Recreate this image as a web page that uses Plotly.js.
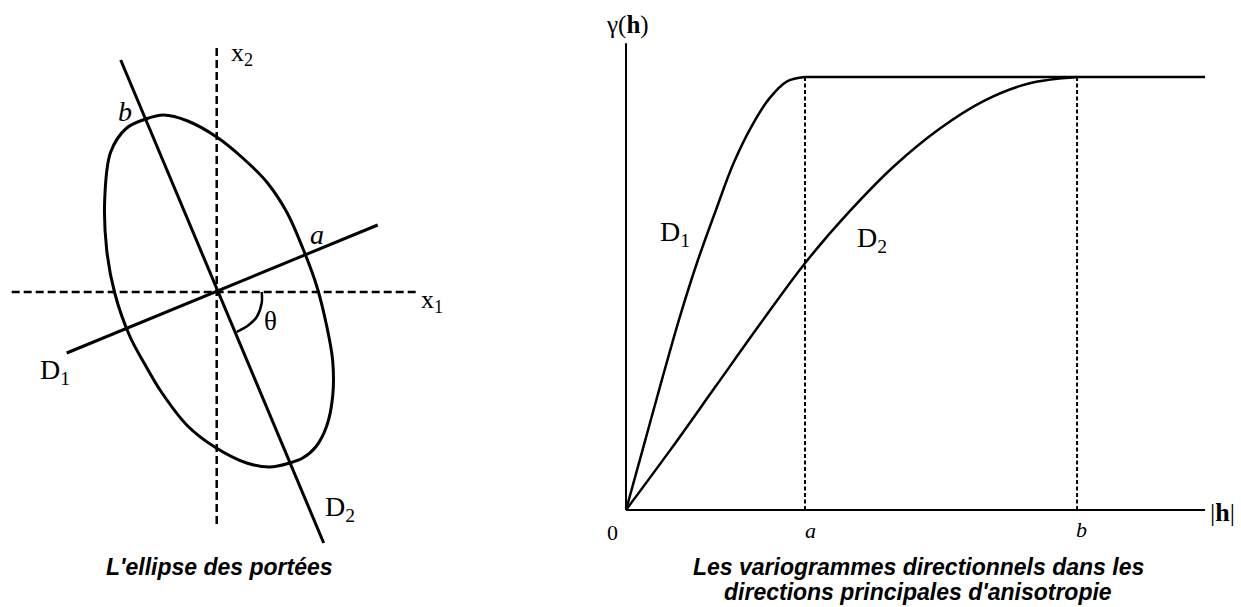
<!DOCTYPE html>
<html>
<head>
<meta charset="utf-8">
<script src="https://cdn.plot.ly/plotly-3.0.1.min.js"></script>
<style>html,body{margin:0;padding:0;background:#fff;}#chart{width:1241px;height:607px;}</style>
</head>
<body>
<div id="chart"></div>
<script>
// ---------- Left diagram: range ellipse (units: centred on the axis crossing, y up) ----------
const x1AxisX = [-205, 202];
const x1AxisY = [0, 0];
const x2AxisX = [0, 0];
const x2AxisY = [244, -236];
const lineD1X = [-150, 161];
const lineD1Y = [-61, 67];
const lineD2X = [-96, 107];
const lineD2Y = [232, -251];
const ellipseX = [-71, -53, -29, 0, 26, 50, 70, 86, 100, 110, 116, 116, 110, 99, 86, 73, 53, 30, -2, -29, -56, -72, -87, -102, -110, -112, -106, -90, -71];
const ellipseY = [173, 177, 171, 155, 134, 110, 80, 44, 6, -34, -69, -104, -134, -155, -166, -171, -175, -171, -155, -134, -99, -72, -44, -1, 42, 92, 140, 164, 173];
const thetaArcX = [45, 45, 40, 32, 20];
const thetaArcY = [0, -11, -25, -33, -40];

// ---------- Right diagram: directional variograms (a = 1, sill = 1) ----------
const rangeA = 1;
const rangeB = 2.52;
const sill = 1;
const hMax = 3.235;
const gammaAxisTop = 1.078;
const d1H = [0, 0.1, 0.2, 0.3, 0.4, 0.5, 0.6, 0.7, 0.8, 0.9, 1.0];
const d1Gamma = [0, 0.15, 0.30, 0.445, 0.575, 0.69, 0.80, 0.885, 0.95, 0.99, 1.0];
const d2H = [0, 0.25, 0.5, 0.75, 1.0, 1.25, 1.5, 1.75, 2.0, 2.25, 2.52];
const d2Gamma = [0, 0.14, 0.285, 0.43, 0.57, 0.69, 0.795, 0.88, 0.945, 0.985, 1.0];

const captionLeft = "L'ellipse des portées";
const captionRightLines = ["Les variogrammes directionnels dans les", "directions principales d'anisotropie"];

const K = '#000';
const serif = 'Liberation Serif, Times New Roman, serif';
const sans = 'Liberation Sans, Arial, sans-serif';

function ln(x, y, w, dash, xa, ya, shape) {
  return {x: x, y: y, mode: 'lines', type: 'scatter', xaxis: xa, yaxis: ya, hoverinfo: 'skip',
    line: {color: K, width: w, dash: dash || 'solid', shape: shape || 'linear', smoothing: 1}};
}

const traces = [
  ln(x1AxisX, x1AxisY, 2.5, '8px,4px', 'x', 'y'),
  ln(x2AxisX, x2AxisY, 2.5, '8px,4px', 'x', 'y'),
  ln(lineD2X, lineD2Y, 3, null, 'x', 'y'),
  ln(lineD1X, lineD1Y, 3, null, 'x', 'y'),
  ln(ellipseX, ellipseY, 3, null, 'x', 'y', 'spline'),
  ln(thetaArcX, thetaArcY, 2.5, null, 'x', 'y', 'spline'),

  ln([0, 0], [0, gammaAxisTop], 2, null, 'x2', 'y2'),
  ln([0, hMax], [0, 0], 2, null, 'x2', 'y2'),
  ln([rangeA, rangeA], [0, sill], 2, '4px,2.5px', 'x2', 'y2'),
  ln([rangeB, rangeB], [0, sill], 2, '4px,2.5px', 'x2', 'y2'),
  ln([rangeA, hMax], [sill, sill], 2.5, null, 'x2', 'y2'),
  ln(d1H, d1Gamma, 2.5, null, 'x2', 'y2', 'spline'),
  ln(d2H, d2Gamma, 2.5, null, 'x2', 'y2', 'spline')
];

function ann(text, x, y, xr, yr, size, extra) {
  return Object.assign({text: text, x: x, y: y, xref: xr, yref: yr, showarrow: false,
    font: {family: serif, size: size, color: K}, xanchor: 'center', yanchor: 'middle'}, extra || {});
}
function cap(text, px, py) {
  return {text: '<b><i>' + text + '</i></b>', x: px / 1241, y: 1 - py / 607, xref: 'paper', yref: 'paper',
    showarrow: false, font: {family: sans, size: 23, color: K}, xanchor: 'center', yanchor: 'middle'};
}

const annotations = [
  ann('x<sub>2</sub>', 12, 238, 'x', 'y', 26, {xanchor: 'left'}),
  ann('x<sub>1</sub>', 202, -9, 'x', 'y', 26, {xanchor: 'left'}),
  ann('D<sub>1</sub>', -162, -79, 'x', 'y', 28),
  ann('D<sub>2</sub>', 123, -216, 'x', 'y', 28),
  ann('<i>a</i>', 100, 58, 'x', 'y', 28),
  ann('<i>b</i>', -92, 181, 'x', 'y', 28),
  ann('θ', 54, -29, 'x', 'y', 27),

  ann('γ(<b>h</b>)', 0.01, 1.12, 'x2', 'y2', 25),
  ann('0', -0.078, -0.051, 'x2', 'y2', 22),
  ann('<i>a</i>', 1.03, -0.048, 'x2', 'y2', 22),
  ann('<i>b</i>', 2.546, -0.046, 'x2', 'y2', 22),
  ann('|<b>h</b>|', 3.33, -0.005, 'x2', 'y2', 26),
  ann('D<sub>1</sub>', 0.274, 0.639, 'x2', 'y2', 28),
  ann('D<sub>2</sub>', 1.372, 0.624, 'x2', 'y2', 28),

  cap(captionLeft, 219, 567),
  cap(captionRightLines[0], 918, 567),
  cap(captionRightLines[1], 918, 592)
];

const hidden = {visible: false, fixedrange: true};
const layout = {
  width: 1241, height: 607,
  margin: {l: 0, r: 0, t: 0, b: 0, pad: 0},
  paper_bgcolor: '#fff', plot_bgcolor: 'rgba(0,0,0,0)',
  showlegend: false,
  xaxis: Object.assign({domain: [0, 0.4], range: [-216.7, 279.7]}, hidden),
  yaxis: Object.assign({domain: [0, 1], range: [-315, 292]}, hidden),
  xaxis2: Object.assign({domain: [0.45, 1], range: [-0.3774, 3.4358]}, hidden),
  yaxis2: Object.assign({domain: [0, 1], range: [-0.2240, 1.1778]}, hidden),
  annotations: annotations
};

Plotly.newPlot('chart', traces, layout, {displayModeBar: false, staticPlot: true});
</script>
</body>
</html>
